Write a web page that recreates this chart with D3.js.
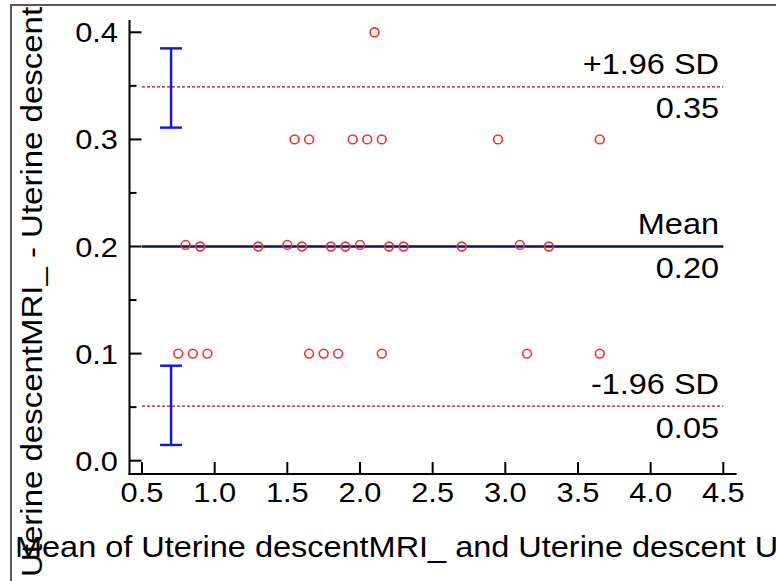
<!DOCTYPE html>
<html>
<head>
<meta charset="utf-8">
<script src="https://cdn.jsdelivr.net/npm/d3@7/dist/d3.min.js"></script>
<style>
  html, body { margin: 0; padding: 0; background: #fff; overflow: hidden; }
  text { font-family: "Liberation Sans", Arial, sans-serif; fill: #000; }
</style>
</head>
<body>
<script>
// Bland-Altman data (mean of the two methods, difference)
const meanVals = [2.1,
    1.55, 1.65, 1.95, 2.05, 2.15, 2.95, 3.65,
    0.8, 0.9, 1.3, 1.5, 1.6, 1.8, 1.9, 2.0, 2.2, 2.3, 2.7, 3.1, 3.3,
    0.75, 0.85, 0.95, 1.65, 1.75, 1.85, 2.15, 3.15, 3.65];
const diffVals = [0.4,
    0.3, 0.3, 0.3, 0.3, 0.3, 0.3, 0.3,
    0.2015, 0.2, 0.2, 0.2015, 0.2, 0.2, 0.2, 0.2015, 0.2, 0.2, 0.2, 0.2015, 0.2,
    0.1, 0.1, 0.1, 0.1, 0.1, 0.1, 0.1, 0.1, 0.1];

const xTicks = [0.5, 1.0, 1.5, 2.0, 2.5, 3.0, 3.5, 4.0, 4.5];
const yTicks = [0.0, 0.1, 0.2, 0.3, 0.4];
const yMinorTicks = [0.05, 0.15, 0.25, 0.35];

const meanDiff = 0.2;
const upperLoA = 0.349;
const lowerLoA = 0.051;
const upperCI = [0.311, 0.385];
const lowerCI = [0.0147, 0.0887];
const ciX = 0.7;

const width = 776, height = 581;

let svg = d3.select("body")
    .append("svg")
    .attr("width", width)
    .attr("height", height);

let x = d3.scaleLinear().domain([0.5, 4.5]).range([142, 723.3]);
let y = d3.scaleLinear().domain([0, 0.4]).range([460.7, 32.3]);

// stretched text helper (the original font is wider than Arial)
function label(g, tx, ty, str, size, anchor, sx, rot) {
    let t = g.append("g")
        .attr("transform", "translate(" + tx + "," + ty + ")" + (rot ? " rotate(" + rot + ")" : "") + " scale(" + sx + ",1)")
        .append("text")
        .attr("font-size", size)
        .attr("text-anchor", anchor)
        .text(str);
    return t;
}

// outer frame
svg.append("path")
    .attr("d", "M11," + (height + 2) + "V5H" + (width + 2))
    .attr("fill", "none")
    .attr("stroke", "#5a5a5a")
    .attr("stroke-width", 2);

// axes
let axisX0 = 129.5, axisY0 = 474;
svg.append("line")
    .attr("x1", axisX0).attr("x2", axisX0)
    .attr("y1", 20).attr("y2", axisY0 + 1)
    .attr("stroke", "#000").attr("stroke-width", 2);
svg.append("line")
    .attr("x1", axisX0 - 1).attr("x2", 736.7)
    .attr("y1", axisY0).attr("y2", axisY0)
    .attr("stroke", "#000").attr("stroke-width", 2);

svg.selectAll(".ytick")
    .data(yTicks)
    .enter()
    .append("line")
    .attr("x1", axisX0).attr("x2", axisX0 + 12)
    .attr("y1", d => y(d)).attr("y2", d => y(d))
    .attr("stroke", "#000").attr("stroke-width", 2);

svg.selectAll(".yminor")
    .data(yMinorTicks)
    .enter()
    .append("line")
    .attr("x1", axisX0).attr("x2", axisX0 + 7)
    .attr("y1", d => y(d)).attr("y2", d => y(d))
    .attr("stroke", "#000").attr("stroke-width", 2);

svg.selectAll(".xtick")
    .data(xTicks)
    .enter()
    .append("line")
    .attr("x1", d => x(d)).attr("x2", d => x(d))
    .attr("y1", axisY0).attr("y2", axisY0 - 12)
    .attr("stroke", "#000").attr("stroke-width", 2);

yTicks.forEach(d => {
    label(svg, 118, y(d) + 10, d3.format(".1f")(d), 28, "end", 1.1);
});
xTicks.forEach(d => {
    label(svg, x(d), 502, d3.format(".1f")(d), 28, "middle", 1.1);
});

// limits of agreement
[upperLoA, lowerLoA].forEach(v => {
    svg.append("line")
        .attr("x1", x(0.5)).attr("x2", x(4.5))
        .attr("y1", y(v)).attr("y2", y(v))
        .attr("stroke", "#8b1a2a")
        .attr("stroke-width", 1.4)
        .attr("stroke-dasharray", "3,2");
});

svg.append("line")
    .attr("x1", x(0.5)).attr("x2", x(4.5))
    .attr("y1", y(meanDiff)).attr("y2", y(meanDiff))
    .attr("stroke", "#0c0c6a")
    .attr("stroke-width", 2.4);

// confidence intervals of the limits
[upperCI, lowerCI].forEach(ci => {
    let g = svg.append("g")
        .attr("stroke", "#1010ff")
        .attr("stroke-width", 2.4);
    g.append("line")
        .attr("x1", x(ciX)).attr("x2", x(ciX))
        .attr("y1", y(ci[0])).attr("y2", y(ci[1]));
    ci.forEach(v => {
        g.append("line")
            .attr("x1", x(ciX) - 11).attr("x2", x(ciX) + 11)
            .attr("y1", y(v)).attr("y2", y(v));
    });
});

// points
svg.selectAll("circle")
    .data(meanVals)
    .enter()
    .append("circle")
    .attr("cx", d => x(d))
    .attr("cy", (d, i) => y(diffVals[i]))
    .attr("r", 4.4)
    .attr("fill", "none")
    .attr("stroke", "#ff2a2a")
    .attr("stroke-width", 1.6);

// line labels
const lineLabels = [
    { v: upperLoA, top: "+1.96 SD", bottom: d3.format(".2f")(upperLoA) },
    { v: meanDiff, top: "Mean", bottom: d3.format(".2f")(meanDiff) },
    { v: lowerLoA, top: "-1.96 SD", bottom: d3.format(".2f")(lowerLoA) }
];
lineLabels.forEach(l => {
    label(svg, 719, y(l.v) - 12.5, l.top, 29, "end", 1.12);
    label(svg, 719, y(l.v) + 31.5, l.bottom, 29, "end", 1.12);
});

// axis titles (clipped by the frame/window like in the original export)
label(svg, 15, 557, "Mean of Uterine descentMRI_ and Uterine descent US", 29, "start", 1.12);

let clip = svg.append("clipPath").attr("id", "frameclip");
clip.append("rect").attr("x", 0).attr("y", 6).attr("width", width).attr("height", height);
let yl = svg.append("g").attr("clip-path", "url(#frameclip)");
label(yl, 42, 577, "Uterine descentMRI_ - Uterine descent US", 30, "start", 1.1, -90);
</script>
</body>
</html>
